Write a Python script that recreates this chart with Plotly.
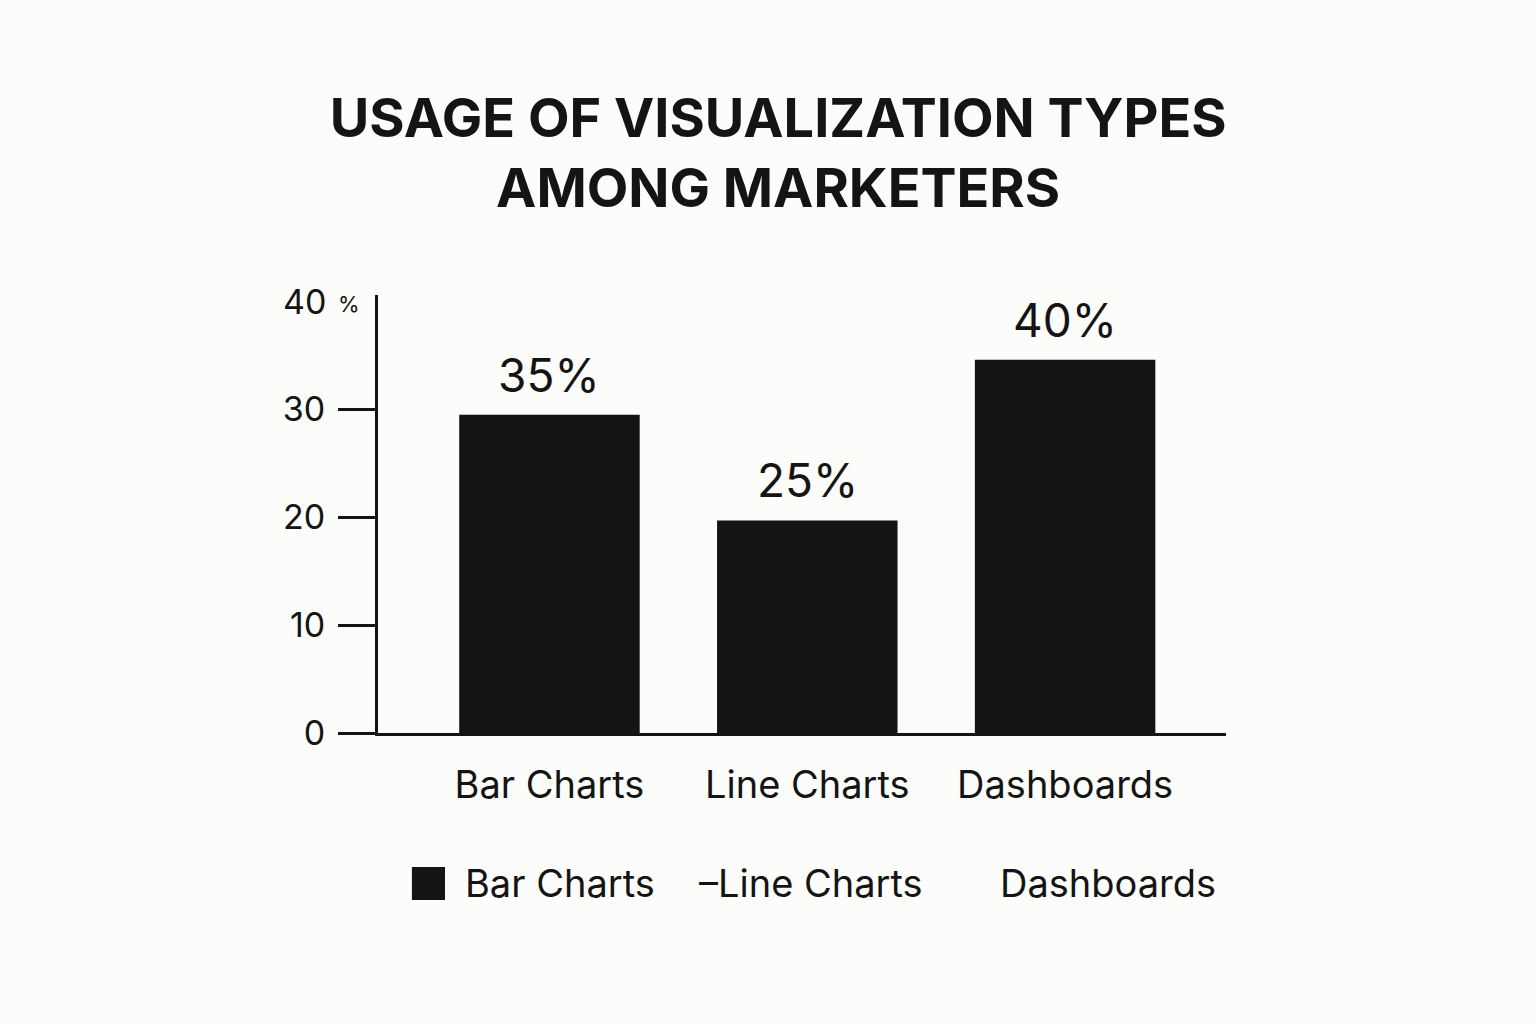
import plotly.graph_objects as go

# values
categories = ["Bar Charts", "Line Charts", "Dashboards"]
bar_heights = [29.5, 19.7, 34.6]
bar_labels = ["35%", "25%", "40%"]
y_ticks = [0, 10, 20, 30]
legend_items = ["Bar Charts", "–Line Charts", "Dashboards"]

ink = "#141414"
bg = "#fcfcfa"
font = "Inter"

fig = go.Figure()

fig.add_trace(go.Bar(
    x=categories,
    y=bar_heights,
    width=0.70,
    marker=dict(color=ink, line=dict(width=0)),
    showlegend=False,
    hoverinfo="skip",
))

# value labels sit a little above each bar
for cat, h, lab in zip(categories, bar_heights, bar_labels):
    fig.add_annotation(
        x=cat, y=h, text=lab, showarrow=False,
        xanchor="center", yanchor="bottom", yshift=10,
        font=dict(family=font, size=46, color=ink),
    )

# top tick label with the small percent sign
fig.add_annotation(
    xref="paper", yref="y", x=0, y=40, text="40", showarrow=False,
    xanchor="right", yanchor="middle", xshift=-50,
    font=dict(family=font, size=34, color=ink),
)
fig.add_annotation(
    xref="paper", yref="y", x=0, y=40, text="%", showarrow=False,
    xanchor="left", yanchor="middle", xshift=-42, yshift=-3,
    font=dict(family=font, size=22, color=ink),
)

# legend row
fig.add_shape(
    type="rect", xref="paper", yref="paper",
    x0=0.040, x1=0.079, y0=-0.381, y1=-0.306,
    fillcolor=ink, line=dict(width=0),
)
legend_x = [0.2146, 0.511, 0.8614]
for txt, lx in zip(legend_items, legend_x):
    fig.add_annotation(
        xref="paper", yref="paper", x=lx, y=-0.343, text=txt,
        showarrow=False, xanchor="center", yanchor="middle",
        font=dict(family=font, size=38, color=ink),
    )

fig.update_layout(
    width=1536,
    height=1024,
    margin=dict(l=378, r=310, t=295, b=291),
    paper_bgcolor=bg,
    plot_bgcolor=bg,
    title=dict(
        text="USAGE OF VISUALIZATION TYPES<br>AMONG MARKETERS",
        x=0.5066, xanchor="center",
        y=0.866, yanchor="top", yref="container",
        font=dict(family=font, size=54, color=ink, weight=700),
    ),
    xaxis=dict(
        type="category",
        range=[-0.665, 2.624],
        showline=True, linecolor=ink, linewidth=3,
        showgrid=False, zeroline=False,
        ticks="", ticklabelstandoff=16,
        tickfont=dict(family=font, size=38, color=ink),
        fixedrange=True,
    ),
    yaxis=dict(
        range=[0, 40.6],
        tickvals=y_ticks,
        showline=True, linecolor=ink, linewidth=3,
        showgrid=False, zeroline=False,
        ticks="outside", ticklen=37, tickwidth=3, tickcolor=ink,
        ticklabelstandoff=6,
        tickfont=dict(family=font, size=34, color=ink),
        fixedrange=True,
    ),
)

fig.write_html(
    "out.html",
    config={"displayModeBar": False},
    post_script="document.body.style.margin='0';document.body.style.background='%s';" % bg,
)
